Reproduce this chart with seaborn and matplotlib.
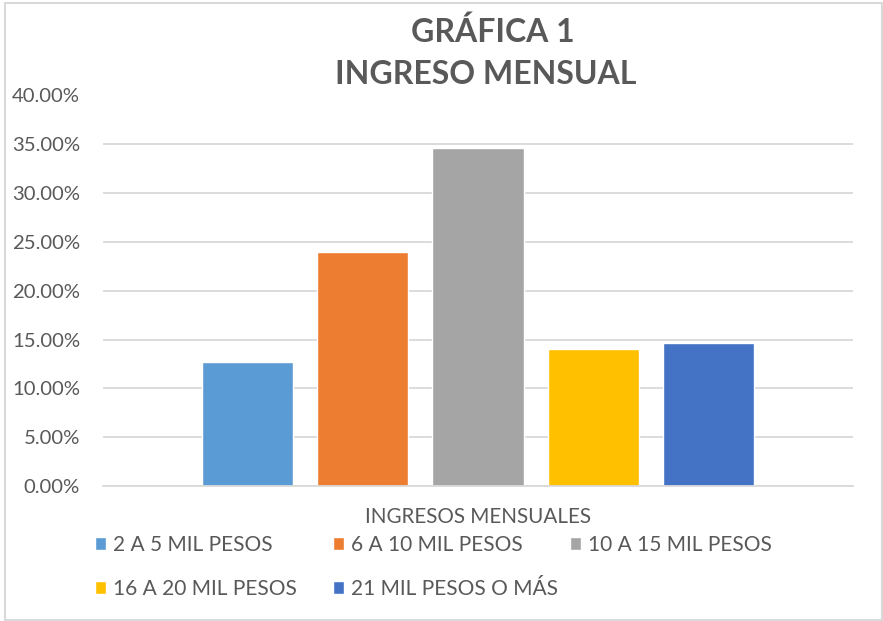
import matplotlib
matplotlib.use("Agg")
import matplotlib.pyplot as plt
import seaborn as sns
import pandas as pd
from matplotlib.patches import Rectangle
from matplotlib.ticker import PercentFormatter, FixedLocator

# Datos: distribución del ingreso mensual (porcentaje de encuestados)
categoria = "INGRESOS MENSUALES"
rangos = ["2 A 5 MIL PESOS", "6 A 10 MIL PESOS", "10 A 15 MIL PESOS",
          "16 A 20 MIL PESOS", "21 MIL PESOS O MÁS"]
porcentajes = [12.67, 24.00, 34.67, 14.00, 14.67]
colores = ["#5B9BD5", "#ED7D31", "#A5A5A5", "#FFC000", "#4472C4"]
marcas_y = [0, 5, 10, 15, 20, 25, 30, 35, 40]
titulo_1 = "GRÁFICA 1"
titulo_2 = "INGRESO MENSUAL"

df = pd.DataFrame({"grupo": [categoria] * len(rangos),
                   "rango": rangos,
                   "pct": porcentajes})

sns.set_theme(style="white")
plt.rcParams["font.family"] = ["Lato", "DejaVu Sans"]
gris_texto = "#595959"
gris_linea = "#D9D9D9"

W, H = 883, 621
fig = plt.figure(figsize=(W / 100, H / 100), dpi=100)
ax = fig.add_axes([103 / W, 135 / H, 750 / W, (486 - 95.5) / H])

sns.barplot(data=df, x="grupo", y="pct", hue="rango", hue_order=rangos,
            palette=colores, saturation=1, width=0.767, gap=0.209,
            legend=True, ax=ax)

handles, labels = ax.get_legend_handles_labels()
ax.get_legend().remove()

ax.set_xlim(-0.5, 0.5)
ax.set_ylim(0, 40)
ax.yaxis.set_major_locator(FixedLocator(marcas_y))
ax.yaxis.set_major_formatter(PercentFormatter(xmax=100, decimals=2))
ax.yaxis.grid(True, color=gris_linea, linewidth=1.3)
ax.set_axisbelow(True)
for lado in ["left", "right", "top"]:
    ax.spines[lado].set_visible(False)
ax.spines["bottom"].set_color(gris_linea)
ax.spines["bottom"].set_linewidth(1.3)

ax.set_xlabel("")
ax.set_ylabel("")
ax.tick_params(axis="y", length=0, pad=16.5, labelsize=14.6, labelcolor=gris_texto)
ax.tick_params(axis="x", length=0, pad=15, labelsize=14.9, labelcolor=gris_texto)

# Título en dos líneas
fig.text(493 / W, 1 - 41.7 / H, titulo_1, ha="center", va="baseline",
         fontsize=23, fontweight="bold", color=gris_texto)
fig.text(486 / W, 1 - 84 / H, titulo_2, ha="center", va="baseline",
         fontsize=23, fontweight="bold", color=gris_texto)

# Leyenda en dos filas con columnas de ancho fijo
posiciones = [(95, 545), (333, 545), (570, 545), (95, 589), (333, 589)]
for h, l, (px, py) in zip(handles, labels, posiciones):
    leg = fig.legend([h], [l], loc="center left",
                     bbox_to_anchor=(px / W, 1 - py / H),
                     frameon=False, fontsize=15, borderpad=0,
                     borderaxespad=0, handlelength=0.55, handleheight=0.55,
                     handletextpad=0.3)
    for t in leg.get_texts():
        t.set_color(gris_texto)

# Marco del área del gráfico
fig.patches.append(Rectangle((4.5 / W, 1 - 620 / H), (882 - 4.5) / W, (620 - 3) / H,
                             transform=fig.transFigure, fill=False,
                             edgecolor=gris_linea, linewidth=1.5))

fig.savefig("out.png", dpi=100)
